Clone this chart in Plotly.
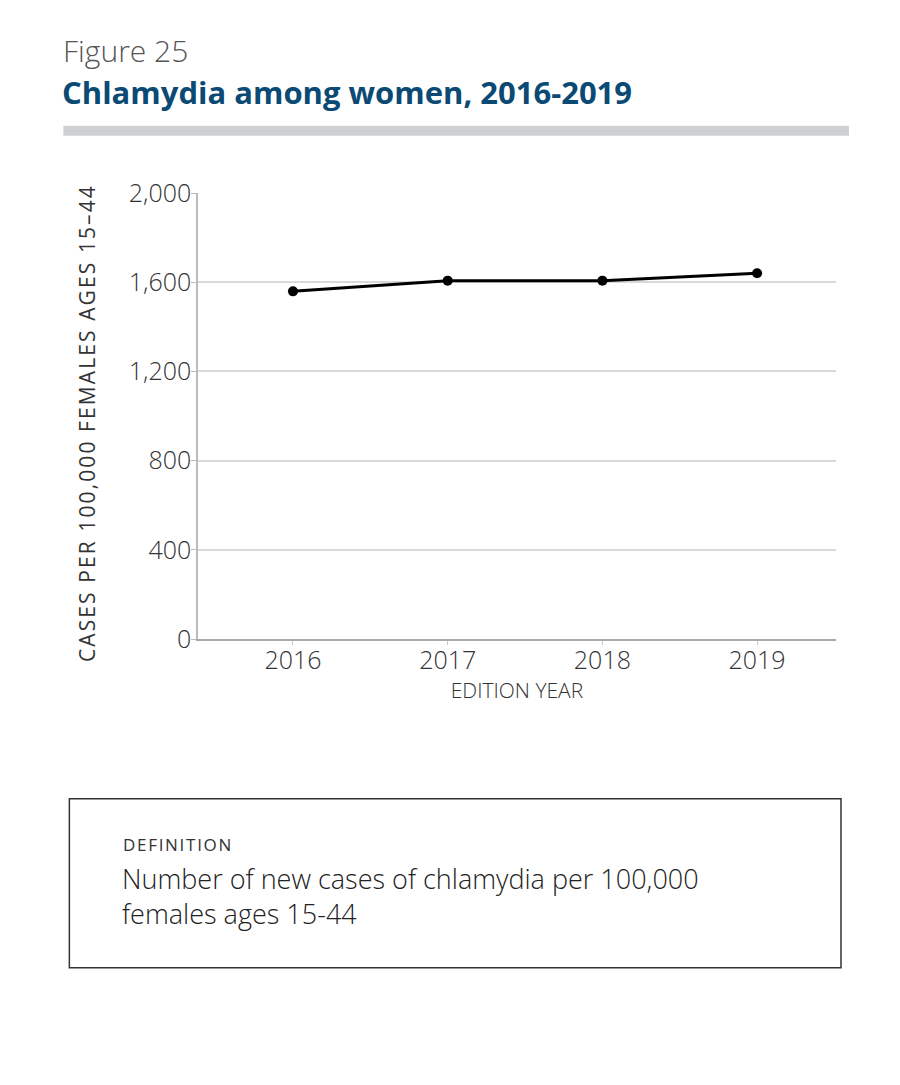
import plotly.graph_objects as go

years = [2016, 2017, 2018, 2019]
rates = [1559, 1607, 1607, 1640]
y_ticks = [0, 400, 800, 1200, 1600, 2000]
y_tick_labels = ["0", "400", "800", "1,200", "1,600", "2,000"]

W, H = 900, 1085
OFF = 8  # page body offset in the browser
L, R, T, B = 197.7, 836.0, 193.3, 639.3   # target on-screen plot-area edges
PW, PH = R - L, B - T

def px(x):
    return (x - L) / PW

def py(y):
    return (B - y) / PH

def spaced(s, sep="\u200a"):
    return sep.join(s)

FONT = "Open Sans, Roboto, sans-serif"

fig = go.Figure()
fig.add_trace(go.Scatter(
    x=years, y=rates, mode="lines+markers",
    line=dict(color="#000000", width=3),
    marker=dict(color="#000000", size=10),
    showlegend=False, cliponaxis=False,
))

fig.update_layout(
    width=W, height=H,
    margin=dict(l=L - OFF, r=W - (R - OFF), t=T - OFF, b=H - (B - OFF), pad=0),
    paper_bgcolor="#ffffff", plot_bgcolor="#ffffff",
    font=dict(family=FONT, color="#333333"),
    xaxis=dict(
        range=[2015.386, 2019.51], tickvals=years, ticktext=[str(y) for y in years],
        showgrid=False, showline=True, linecolor="#aaaaaa", linewidth=2,
        ticks="outside", ticklen=4, tickcolor="#cccccc", tickwidth=1,
        ticklabelstandoff=-6,
        tickfont=dict(size=25, color="#333333", family=FONT, weight=300),
        zeroline=False, fixedrange=True,
        title=dict(text="EDITION YEAR", font=dict(size=21, color="#333333", weight=300), standoff=0),
    ),
    yaxis=dict(
        range=[0, 2000], tickvals=y_ticks, ticktext=y_tick_labels,
        showgrid=True, gridcolor="#d9d9d9", gridwidth=1.5,
        showline=True, linecolor="#bbbbbb", linewidth=1.5,
        ticks="outside", ticklen=5, tickcolor="#bbbbbb",
        ticklabelstandoff=-5,
        tickfont=dict(size=25, color="#333333", family=FONT, weight=300),
        zeroline=False, fixedrange=True,
    ),
)

annotations = [
    dict(text="Figure 25", x=px(61), y=py(51), xanchor="left", yanchor="middle",
         font=dict(size=30, color="#555555", family=FONT, weight=300)),
    dict(text="<b>Chlamydia among women, 2016-2019</b>", x=px(60), y=py(92),
         xanchor="left", yanchor="middle",
         font=dict(size=31, color="#0b4a75", family=FONT)),
    dict(text=spaced("CASES PER 100,000 FEMALES AGES 15\u201344"), x=px(86), y=py(424),
         textangle=-90, xanchor="center", yanchor="middle",
         font=dict(size=21, color="#333333", family=FONT)),
    dict(text=spaced("DEFINITION"), x=px(121), y=py(845), xanchor="left", yanchor="middle",
         font=dict(size=17, color="#333333", family=FONT)),
    dict(text="Number of new cases of chlamydia per 100,000<br>females ages 15-44",
         x=px(120), y=py(896), xanchor="left", yanchor="middle", align="left",
         font=dict(size=27, color="#222222", family=FONT, weight=300)),
]
for a in annotations:
    a.update(xref="paper", yref="paper", showarrow=False)
fig.update_layout(annotations=annotations)

shapes = [
    dict(type="rect", x0=px(63), x1=px(849), y0=py(126), y1=py(136),
         fillcolor="#cfd0d2", line=dict(width=0)),
    dict(type="rect", x0=px(69), x1=px(841), y0=py(799), y1=py(968),
         fillcolor="rgba(0,0,0,0)", line=dict(color="#333333", width=1.5)),
]
for s in shapes:
    s.update(xref="paper", yref="paper", layer="above")
fig.update_layout(shapes=shapes)

fig.write_html("out.html")
